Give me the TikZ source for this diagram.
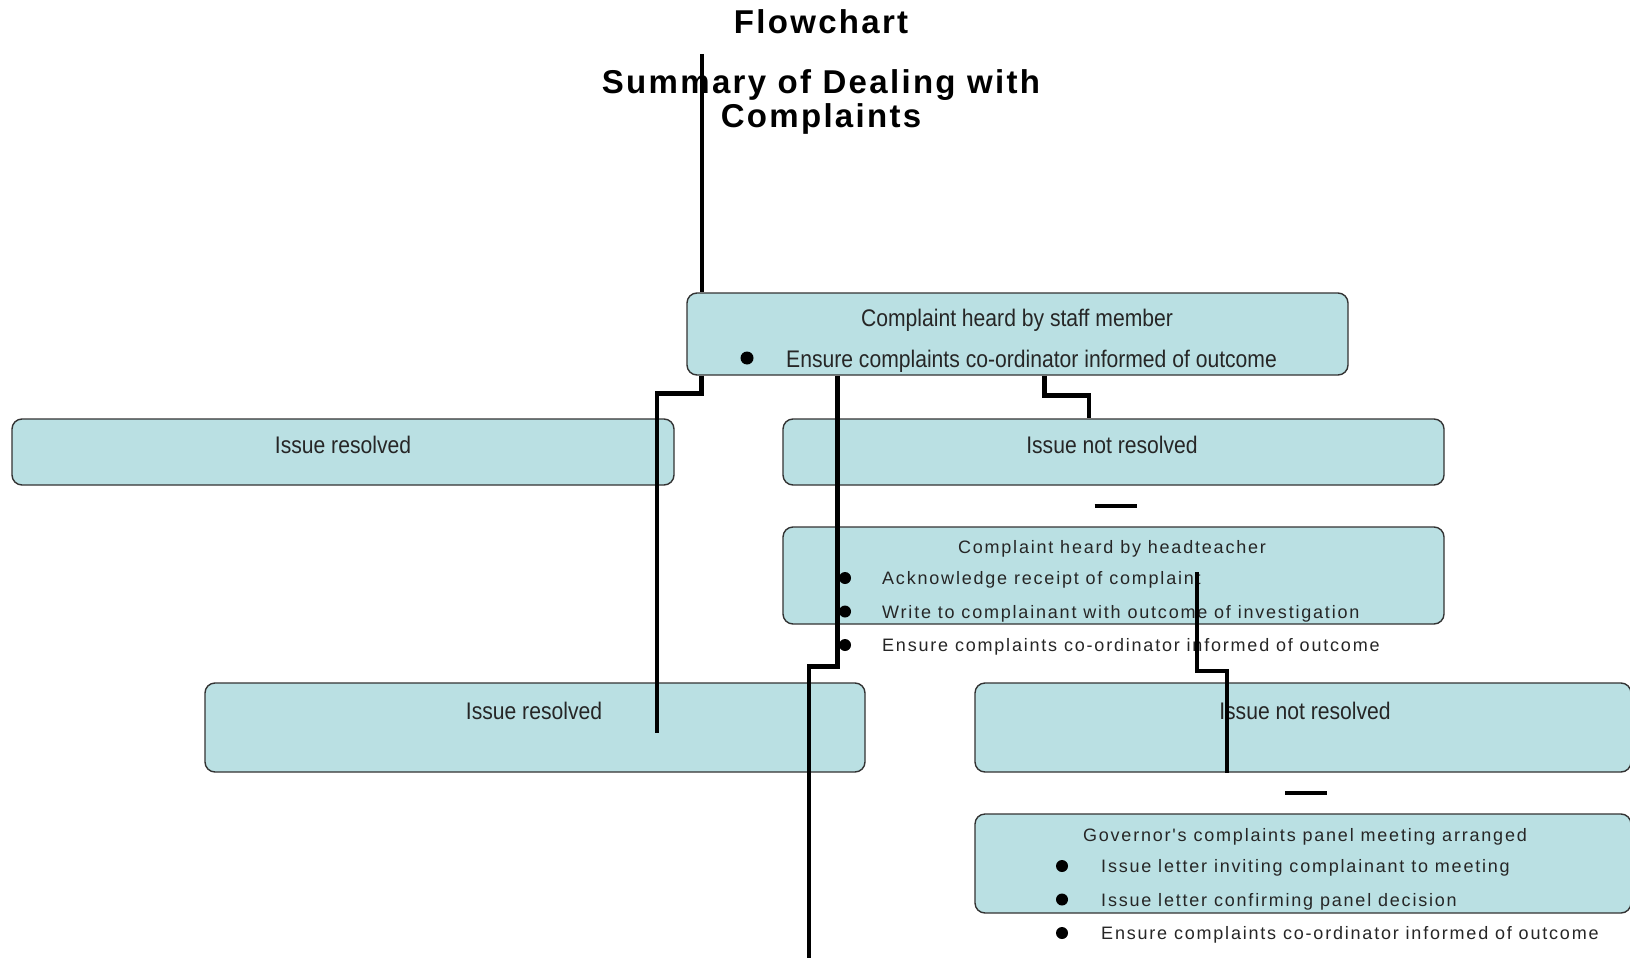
\documentclass[tikz,border=0pt]{standalone}
\usepackage{fontspec}
\setmainfont{Liberation Sans}
\newfontfamily\ttlfont[LetterSpace=7]{Liberation Sans}
\newfontfamily\narrowfont[FakeStretch=0.88]{Liberation Sans}
\newfontfamily\widefont[LetterSpace=10]{Liberation Sans}
\usetikzlibrary{calc}
\definecolor{boxblue}{RGB}{186,224,227}

\begin{document}
\begin{tikzpicture}[x=1pt,y=-1pt,
  box/.style={draw=black!80,fill=boxblue,rounded corners=10pt,line width=1.4pt,inner sep=0pt},
  bigtxt/.style={text=black!85,font=\narrowfont\fontsize{24}{28}\selectfont,inner sep=0pt},
  smalltxt/.style={text=black!85,font=\widefont\fontsize{18}{21}\selectfont,inner sep=0pt},
  ttl/.style={font=\ttlfont\bfseries\fontsize{33}{34}\selectfont,align=center,inner sep=0pt},
  conn/.style={line width=4.5pt},
  dot/.style={circle,fill,inner sep=0pt,minimum size=12pt}]
\fill[white] (0,0) rectangle (1630,958);
\useasboundingbox (0,0) rectangle (1630,958);

% title
\node[ttl] (ttl1) at (821,22) {Flowchart};
\node[ttl] (ttl2) at (821,102) {Summary of Dealing with\\Complaints};

% boxes
\node[box,minimum width=661,minimum height=82] (staff) at (1017.5,334) {};
\node[box,minimum width=662,minimum height=66] (res1) at (343,452) {};
\node[box,minimum width=661,minimum height=66] (notres1) at (1113.5,452) {};
\node[box,minimum width=661,minimum height=97] (head) at (1113.5,575.5) {};
\node[box,minimum width=660,minimum height=89] (res2) at (535,727.5) {};
\node[box,minimum width=656,minimum height=89] (notres2) at (1303,727.5) {};
\node[box,minimum width=656,minimum height=99] (gov) at (1303,863.5) {};

% texts
\node[bigtxt] (stafftxt) at (1017,320) {Complaint heard by staff member};
\node[dot,minimum size=13pt] (staffdot) at (747,358) {};
\node[bigtxt,anchor=west] (staffitem) at (786,361) {Ensure complaints co-ordinator informed of outcome};
\node[bigtxt] (res1txt) at (343,445) {Issue resolved};
\node[bigtxt] (notres1txt) at (1112,445) {Issue not resolved};
\node[bigtxt] (res2txt) at (534,711) {Issue resolved};
\node[bigtxt] (notres2txt) at (1305,711) {Issue not resolved};

\node[smalltxt] (headtxt) at (1112,549) {Complaint heard by headteacher};
\foreach \t [count=\i] in {Acknowledge receipt of complaint,
    Write to complainant with outcome of investigation,
    Ensure complaints co-ordinator informed of outcome}
  {
  \node[dot] (hdot\i) at (845,{578+33.5*(\i-1)}) {};
  \node[smalltxt,anchor=west] (hitem\i) at (882,{580+33.5*(\i-1)}) {\t};
  }

\node[smalltxt] (govtxt) at (1305,837) {Governor's complaints panel meeting arranged};
\foreach \t [count=\i] in {Issue letter inviting complainant to meeting,
    Issue letter confirming panel decision,
    Ensure complaints co-ordinator informed of outcome}
  {
  \node[dot] (gdot\i) at (1062,{866+33.5*(\i-1)}) {};
  \node[smalltxt,anchor=west] (gitem\i) at (1101,{868+33.5*(\i-1)}) {\t};
  }

% connectors
\coordinate (top) at (702,54);
\coordinate (endA) at (657,733);
\coordinate (endB) at (809,962);
\coordinate (startE) at (1197,572);
\draw[conn] (top) -- (top |- staff.north);
\draw[conn] ([xshift=15pt]staff.south west) -- ++(0,18) -| (endA);
\draw[conn] ([xshift=151pt]staff.south west) -- ++(0,291) -| (endB);
\draw[conn] ([xshift=358pt]staff.south west) -- ++(0,20) -| ([xshift=-24.5pt]notres1.north);
\draw[conn] (startE) -- ++(0,99) -| ([xshift=-76pt]notres2.south);
\draw[conn,line width=4pt] ($(notres1.south)!0.5!(head.north)+(-19,0)$) -- ++(42,0);
\draw[conn,line width=4pt] ($(notres2.south)!0.5!(gov.north)+(-18,0)$) -- ++(42,0);
\end{tikzpicture}
\end{document}
